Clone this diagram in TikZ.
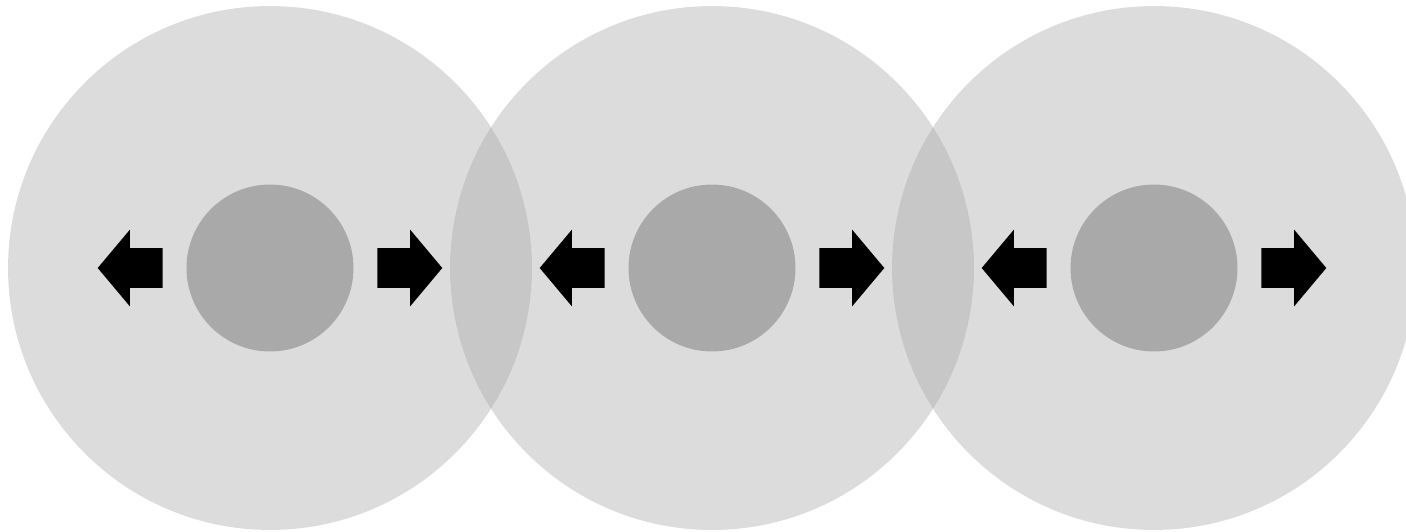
\documentclass[tikz,border=0pt]{standalone}
\usepackage{tikz}
\usetikzlibrary{shapes.arrows}

\definecolor{ringgray}{gray}{0.63}
\definecolor{dotgray}{HTML}{A9A9A9}

\tikzset{
  ring/.style={circle, fill=ringgray, fill opacity=0.37, minimum size=10.48cm, inner sep=0},
  dot/.style={circle, fill=dotgray, minimum size=3.34cm, inner sep=0},
  push/.style={single arrow, fill=black, inner xsep=0, inner ysep=0.39cm, minimum height=1.3cm,
    single arrow head extend=0.37cm, single arrow tip angle=100}
}

\begin{document}
\begin{tikzpicture}[x=0.02cm, y=-0.02cm]
  \useasboundingbox (0,0) rectangle (1406,531);

  \foreach \i/\x in {1/270, 2/712, 3/1154} {
    \node[ring] (ring\i) at (\x,268) {};
  }
  \foreach \i/\x in {1/270, 2/712, 3/1154} {
    \node[dot] (dot\i) at (\x,268) {};
    \node[push, shape border rotate=180] (left\i) at (dot\i) [xshift=-2.63cm] {};
    \node[push] (right\i) at (dot\i) [xshift=2.63cm] {};
  }

\end{tikzpicture}
\end{document}
